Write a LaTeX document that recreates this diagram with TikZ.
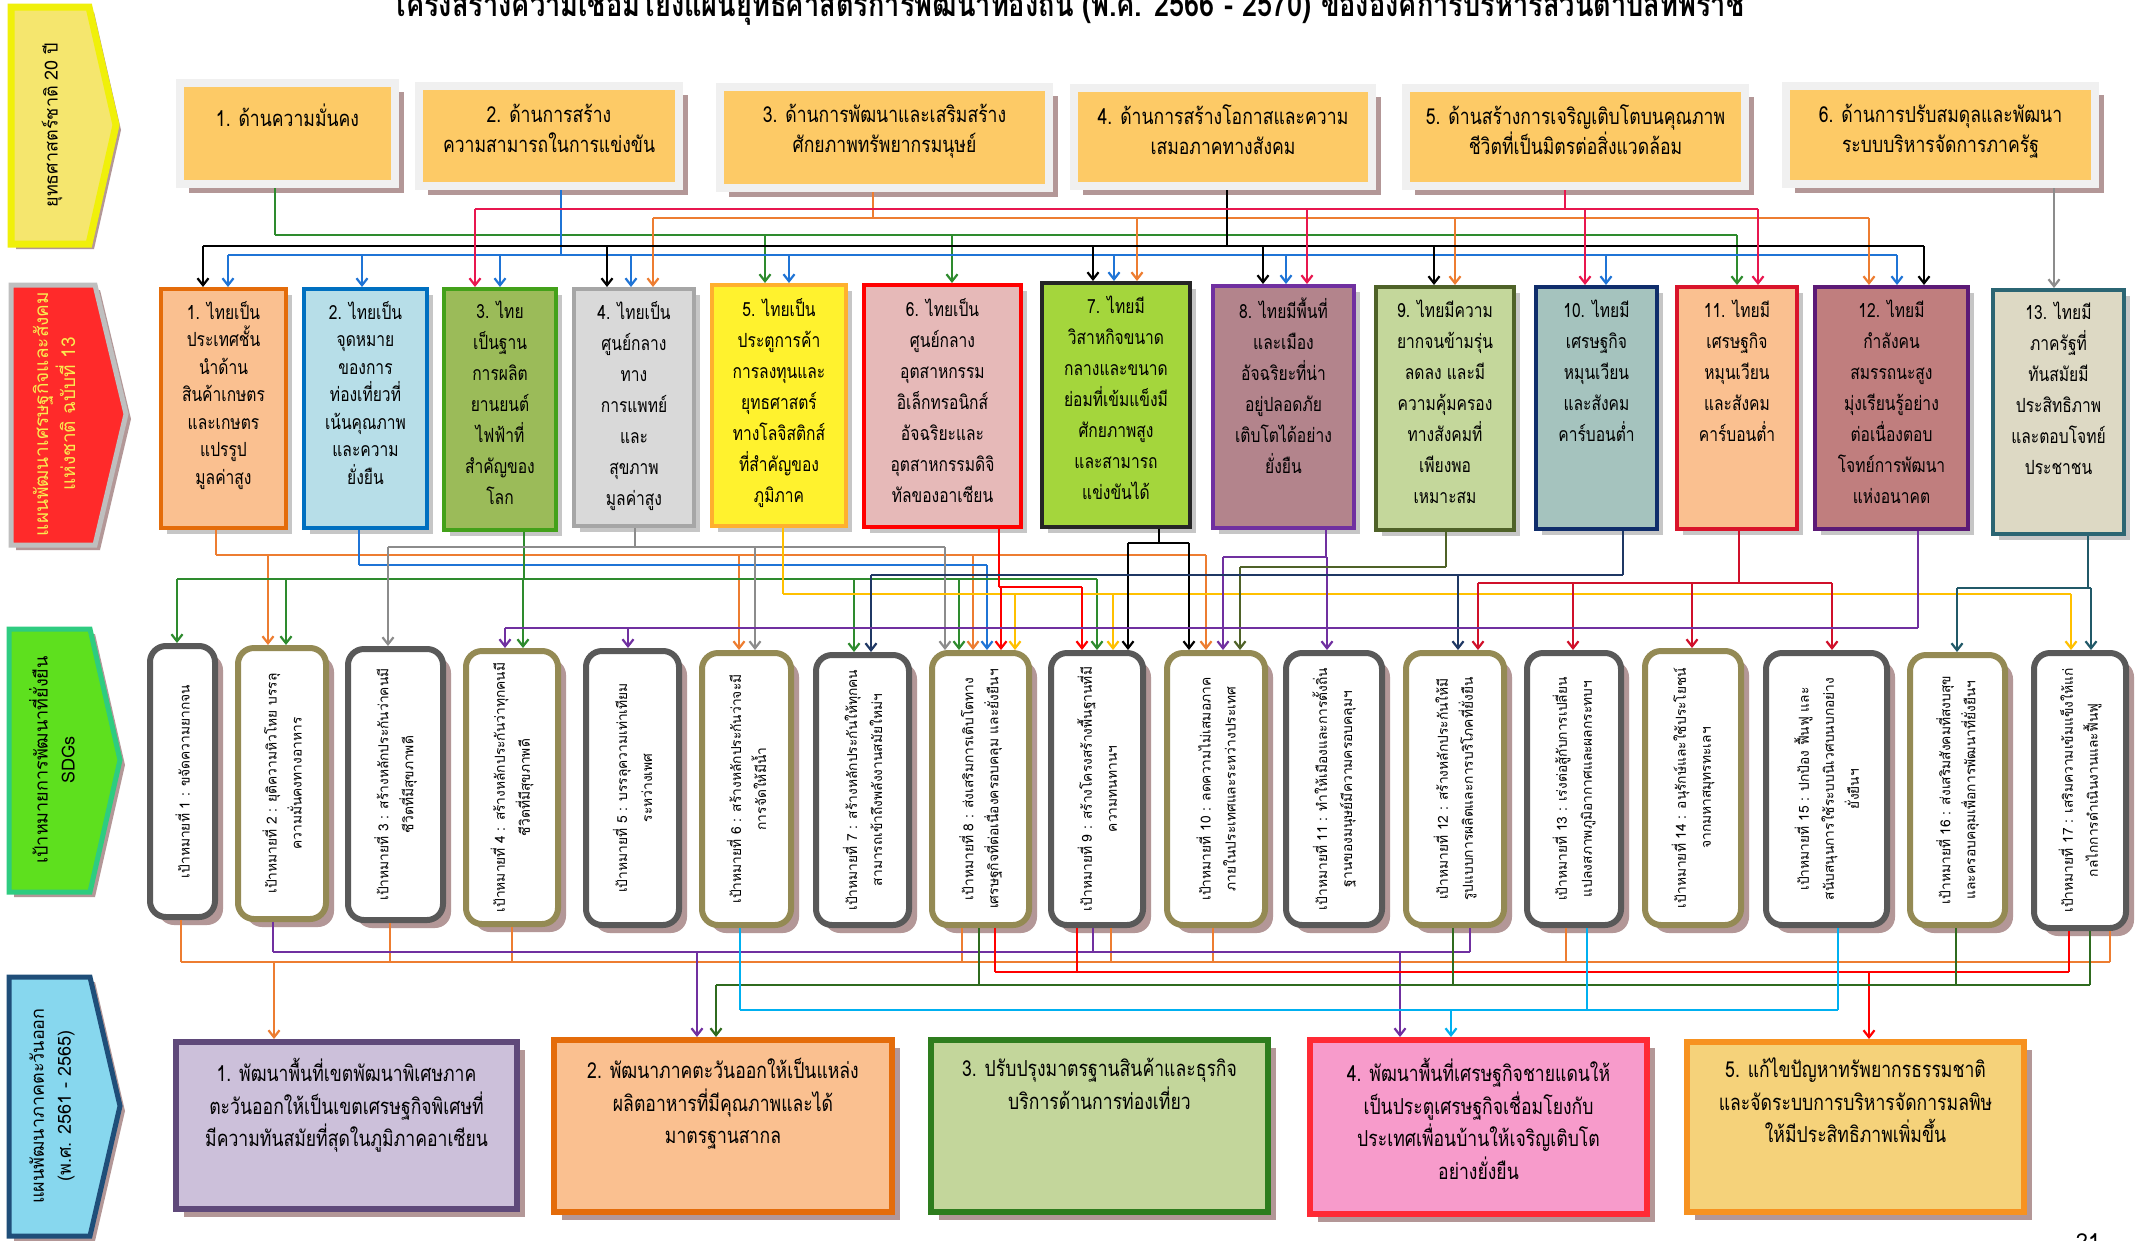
\documentclass[tikz,border=0pt]{standalone}
\usepackage{fontspec}
\usetikzlibrary{arrows.meta,shadows,fit}
\newfontfamily\thaiR[Script=Thai]{Loma}
\newfontfamily\thaiC[Script=Thai,FakeStretch=0.8]{Loma}

\definecolor{shad}{HTML}{B39797}
\definecolor{topfill}{HTML}{FDCA66}
\definecolor{topframe}{HTML}{F0F0F0}
\definecolor{sgray}{HTML}{595959}
\definecolor{solive}{HTML}{948A54}
% connector colours
\definecolor{cgreen}{HTML}{2E8B2E}
\definecolor{cblue}{HTML}{1F74D6}
\definecolor{corange}{HTML}{ED7D31}
\definecolor{cred}{HTML}{E8174F}
\definecolor{cgray}{HTML}{8C8C8C}
\definecolor{cyel}{HTML}{FFC000}
\definecolor{cpure}{HTML}{7030A0}
\definecolor{colive}{HTML}{4F6228}
\definecolor{cnavy}{HTML}{1F3864}
\definecolor{ccrim}{HTML}{D0102A}
\definecolor{cteal}{HTML}{215968}
\definecolor{ccyan}{HTML}{00B0F0}
\definecolor{cdgreen}{HTML}{2F6B1F}

\tikzset{
  conn/.style={line width=2.2pt},
  arr/.style={line width=2.2pt,-{Straight Barb[length=7pt,width=11pt]}},
  topbox/.style={inner sep=0pt, draw=topframe, line width=8pt, fill=topfill,
     drop shadow={shadow xshift=9pt,shadow yshift=-9pt,fill=shad,opacity=1}},
  midbox/.style={inner sep=0pt, line width=4pt,
     drop shadow={shadow xshift=6pt,shadow yshift=-6pt,fill=gray!45,opacity=1}},
  sdgbox/.style={inner sep=0pt, line width=6pt, fill=white, rounded corners=16pt,
     drop shadow={shadow xshift=8pt,shadow yshift=-8pt,fill=shad,opacity=1}},
  botbox/.style={inner sep=0pt, line width=6pt,
     drop shadow={shadow xshift=8pt,shadow yshift=-8pt,fill=shad,opacity=1}},
  toptext/.style={anchor=north, align=center, inner sep=0pt, font=\thaiC\fontsize{22}{30}\selectfont},
  midtext/.style={anchor=north, align=center, inner sep=0pt, font=\thaiC\fontsize{19.5}{31}\selectfont},
  bottext/.style={anchor=north, align=center, inner sep=0pt, font=\thaiC\fontsize{22}{32.5}\selectfont},
  sdgtext/.style={rotate=90, align=center, inner sep=0pt, font=\thaiR\fontsize{13.8}{25}\selectfont},
  sidetext/.style={rotate=90, align=center, inner sep=0pt, font=\thaiR\fontsize{18}{27}\selectfont},
}
\newcommand\dropto[4]{\draw[arr,#1] (#2,#3) -- (#2,0 |- #4.north);}
\newcommand\stubfrom[4]{\draw[conn,#1] (#2,0 |- #4.south) -- (#2,#3);}
\newcommand\hbus[4]{\draw[conn,#1] (#2,#4) -- (#3,#4);}

\begin{document}
\begin{tikzpicture}[x=1pt,y=-1pt]
\useasboundingbox (0,0) rectangle (2140,1240);
\fill[white] (0,0) rectangle (2140,1240);

% ---------- title (cut at top) ----------
\node[anchor=base, inner sep=0pt, font=\thaiC\bfseries\fontsize{34}{34}\selectfont] (title) at (1068,16)
  {โครงสร้างความเชื่อมโยงแผนยุทธศาสตร์การพัฒนาท้องถิ่น (พ.ศ. 2566 - 2570) ขององค์การบริหารส่วนตำบลทีพราช};

% ---------- left arrows ----------
\fill[shad] (16,12) -- (94,12) -- (121,130) -- (94,249) -- (16,249) -- cycle;
\filldraw[fill={rgb,255:red,245;green,230;blue,110}, draw={rgb,255:red,240;green,240;blue,10}, line width=7pt, line join=miter]
  (11,7) -- (89,7) -- (116,125) -- (89,244) -- (11,244) -- cycle;
\node[sidetext] (lab1) at (52,125) {ยุทธศาสตร์ชาติ 20 ปี};

\fill[shad] (16,290) -- (100,290) -- (131,419) -- (100,550) -- (16,550) -- cycle;
\filldraw[fill={rgb,255:red,255;green,42;blue,42}, draw=gray!50, line width=5pt]
  (11,285) -- (95,285) -- (126,414) -- (95,545) -- (11,545) -- cycle;
\node[sidetext, font=\thaiR\fontsize{19}{27}\selectfont, text={rgb,255:red,250;green,235;blue,80}] (lab2) at (54,414) {แผนพัฒนาเศรษฐกิจและสังคม\\แห่งชาติ ฉบับที่ 13};

\fill[shad] (14,634) -- (95,634) -- (125,765) -- (95,897) -- (14,897) -- cycle;
\filldraw[fill={rgb,255:red,94;green,224;blue,30}, draw={rgb,255:red,46;green,204;blue,128}, line width=5pt]
  (9,629) -- (90,629) -- (120,760) -- (90,892) -- (9,892) -- cycle;
\node[sidetext] (lab3) at (52,760) {เป้าหมายการพัฒนาที่ยั่งยืน\\SDGs};

\fill[shad] (14,982) -- (95,982) -- (125,1111) -- (95,1241) -- (14,1241) -- cycle;
\filldraw[fill={rgb,255:red,135;green,215;blue,238}, draw={rgb,255:red,31;green,78;blue,121}, line width=5pt]
  (9,977) -- (90,977) -- (120,1106) -- (90,1236) -- (9,1236) -- cycle;
\node[sidetext] (lab4) at (52,1106) {แผนพัฒนาภาคตะวันออก\\(พ.ศ. 2561 - 2565)};

% ---------- top row: strategies ----------
\node[topbox, fit={(180,83) (395,184)}] (t1) {};
\node[topbox, fit={(419,86) (679,186)}] (t2) {};
\node[topbox, fit={(720,87) (1049,188)}] (t3) {};
\node[topbox, fit={(1074,88) (1372,186)}] (t4) {};
\node[topbox, fit={(1406,88) (1745,186)}] (t5) {};
\node[topbox, fit={(1786,86) (2095,184)}] (t6) {};
\node[toptext] at (t1.center |- 0,104) {1. ด้านความมั่นคง};
\node[toptext] at (t2.center |- 0,104) {2. ด้านการสร้าง\\ความสามารถในการแข่งขัน};
\node[toptext] at (t3.center |- 0,104) {3. ด้านการพัฒนาและเสริมสร้าง\\ศักยภาพทรัพยากรมนุษย์};
\node[toptext] at (t4.center |- 0,104) {4. ด้านการสร้างโอกาสและความ\\เสมอภาคทางสังคม};
\node[toptext] at (t5.center |- 0,104) {5. ด้านสร้างการเจริญเติบโตบนคุณภาพ\\ชีวิตที่เป็นมิตรต่อสิ่งแวดล้อม};
\node[toptext] at (t6.center |- 0,104) {6. ด้านการปรับสมดุลและพัฒนา\\ระบบบริหารจัดการภาครัฐ};

% ---------- middle row: 13 national targets ----------
\node[midbox, fill={rgb,255:red,250;green,192;blue,144}, draw={rgb,255:red,228;green,108;blue,10}, fit={(161,289) (286,528)}] (m1) {};
\node[midbox, fill={rgb,255:red,183;green,222;blue,232}, draw={rgb,255:red,0;green,112;blue,192}, fit={(304,289) (427,528)}] (m2) {};
\node[midbox, fill={rgb,255:red,155;green,187;blue,89}, draw={rgb,255:red,67;green,161;blue,26}, fit={(444,289) (556,530)}] (m3) {};
\node[midbox, fill={rgb,255:red,217;green,217;blue,217}, draw={rgb,255:red,166;green,166;blue,166}, fit={(574,289) (694,526)}] (m4) {};
\node[midbox, fill={rgb,255:red,255;green,242;blue,46}, draw={rgb,255:red,255;green,176;blue,46}, fit={(712,285) (846,526)}] (m5) {};
\node[midbox, fill={rgb,255:red,230;green,185;blue,184}, draw=red, fit={(864,285) (1021,527)}] (m6) {};
\node[midbox, fill={rgb,255:red,164;green,214;blue,60}, draw={rgb,255:red,38;green,38;blue,38}, fit={(1042,283) (1190,527)}] (m7) {};
\node[midbox, fill={rgb,255:red,179;green,132;blue,140}, draw={rgb,255:red,112;green,48;blue,160}, fit={(1213,286) (1354,528)}] (m8) {};
\node[midbox, fill={rgb,255:red,196;green,215;blue,155}, draw={rgb,255:red,79;green,98;blue,40}, fit={(1376,287) (1514,530)}] (m9) {};
\node[midbox, fill={rgb,255:red,165;green,195;blue,190}, draw={rgb,255:red,15;green,45;blue,107}, fit={(1536,287) (1657,529)}] (m10) {};
\node[midbox, fill={rgb,255:red,250;green,192;blue,144}, draw={rgb,255:red,217;green,20;blue,43}, fit={(1677,287) (1797,529)}] (m11) {};
\node[midbox, fill={rgb,255:red,192;green,126;blue,126}, draw={rgb,255:red,92;green,26;blue,118}, fit={(1815,287) (1968,529)}] (m12) {};
\node[midbox, fill={rgb,255:red,221;green,217;blue,196}, draw={rgb,255:red,43;green,101;blue,115}, fit={(1993,290) (2124,534)}] (m13) {};

\node[midtext, font=\thaiC\fontsize{19.5}{27.5}\selectfont] at (m1.center |- 0,301) {1. ไทยเป็น\\ประเทศชั้น\\นำด้าน\\สินค้าเกษตร\\และเกษตร\\แปรรูป\\มูลค่าสูง};
\node[midtext, font=\thaiC\fontsize{19.5}{27.5}\selectfont] at (m2.center |- 0,301) {2. ไทยเป็น\\จุดหมาย\\ของการ\\ท่องเที่ยวที่\\เน้นคุณภาพ\\และความ\\ยั่งยืน};
\node[midtext] at (m3.center |- 0,301) {3. ไทย\\เป็นฐาน\\การผลิต\\ยานยนต์\\ไฟฟ้าที่\\สำคัญของ\\โลก};
\node[midtext] at (m4.center |- 0,301) {4. ไทยเป็น\\ศูนย์กลาง\\ทาง\\การแพทย์\\และ\\สุขภาพ\\มูลค่าสูง};
\node[midtext] at (m5.center |- 0,298) {5. ไทยเป็น\\ประตูการค้า\\การลงทุนและ\\ยุทธศาสตร์\\ทางโลจิสติกส์\\ที่สำคัญของ\\ภูมิภาค};
\node[midtext] at (m6.center |- 0,298) {6. ไทยเป็น\\ศูนย์กลาง\\อุตสาหกรรม\\อิเล็กทรอนิกส์\\อัจฉริยะและ\\อุตสาหกรรมดิจิ\\ทัลของอาเซียน};
\node[midtext] at (m7.center |- 0,296) {7. ไทยมี\\วิสาหกิจขนาด\\กลางและขนาด\\ย่อมที่เข้มแข็งมี\\ศักยภาพสูง\\และสามารถ\\แข่งขันได้};
\node[midtext] at (m8.center |- 0,298) {8. ไทยมีพื้นที่\\และเมือง\\อัจฉริยะที่น่า\\อยู่ปลอดภัย\\เติบโตได้อย่าง\\ยั่งยืน};
\node[midtext] at (m9.center |- 0,300) {9. ไทยมีความ\\ยากจนข้ามรุ่น\\ลดลง และมี\\ความคุ้มครอง\\ทางสังคมที่\\เพียงพอ\\เหมาะสม};
\node[midtext] at (m10.center |- 0,300) {10. ไทยมี\\เศรษฐกิจ\\หมุนเวียน\\และสังคม\\คาร์บอนต่ำ};
\node[midtext] at (m11.center |- 0,300) {11. ไทยมี\\เศรษฐกิจ\\หมุนเวียน\\และสังคม\\คาร์บอนต่ำ};
\node[midtext] at (m12.center |- 0,300) {12. ไทยมี\\กำลังคน\\สมรรถนะสูง\\มุ่งเรียนรู้อย่าง\\ต่อเนื่องตอบ\\โจทย์การพัฒนา\\แห่งอนาคต};
\node[midtext] at (m13.center |- 0,302) {13. ไทยมี\\ภาครัฐที่\\ทันสมัยมี\\ประสิทธิภาพ\\และตอบโจทย์\\ประชาชน};

% ---------- SDG row ----------
\node[sdgbox, draw=sgray,  fit={(150,646) (215,917)}] (s1) {};
\node[sdgbox, draw=solive, fit={(238,648) (326,919)}] (s2) {};
\node[sdgbox, draw=sgray,  fit={(348,649) (443,920)}] (s3) {};
\node[sdgbox, draw=solive, fit={(466,651) (558,924)}] (s4) {};
\node[sdgbox, draw=sgray,  fit={(586,651) (679,925)}] (s5) {};
\node[sdgbox, draw=solive, fit={(702,653) (791,925)}] (s6) {};
\node[sdgbox, draw=sgray,  fit={(816,655) (909,925)}] (s7) {};
\node[sdgbox, draw=solive, fit={(932,653) (1029,925)}] (s8) {};
\node[sdgbox, draw=sgray,  fit={(1051,653) (1143,925)}] (s9) {};
\node[sdgbox, draw=solive, fit={(1167,653) (1265,925)}] (s10) {};
\node[sdgbox, draw=sgray,  fit={(1286,653) (1382,925)}] (s11) {};
\node[sdgbox, draw=solive, fit={(1406,653) (1504,925)}] (s12) {};
\node[sdgbox, draw=sgray,  fit={(1527,653) (1621,925)}] (s13) {};
\node[sdgbox, draw=solive, fit={(1645,651) (1741,925)}] (s14) {};
\node[sdgbox, draw=sgray,  fit={(1766,653) (1887,925)}] (s15) {};
\node[sdgbox, draw=solive, fit={(1910,655) (2005,925)}] (s16) {};
\node[sdgbox, draw=sgray,  fit={(2034,653) (2126,928)}] (s17) {};

\node[sdgtext] at (s1) {เป้าหมายที่ 1 : ขจัดความยากจน};
\node[sdgtext] at (s2) {เป้าหมายที่ 2 : ยุติความหิวโหย บรรลุ\\ความมั่นคงทางอาหาร};
\node[sdgtext] at (s3) {เป้าหมายที่ 3 : สร้างหลักประกันว่าคนมี\\ชีวิตที่มีสุขภาพดี};
\node[sdgtext] at (s4) {เป้าหมายที่ 4 : สร้างหลักประกันว่าทุกคนมี\\ชีวิตที่มีสุขภาพดี};
\node[sdgtext] at (s5) {เป้าหมายที่ 5 : บรรลุความเท่าเทียม\\ระหว่างเพศ};
\node[sdgtext] at (s6) {เป้าหมายที่ 6 : สร้างหลักประกันว่าจะมี\\การจัดให้มีน้ำ};
\node[sdgtext] at (s7) {เป้าหมายที่ 7 : สร้างหลักประกันให้ทุกคน\\สามารถเข้าถึงพลังงานสมัยใหม่ฯ};
\node[sdgtext] at (s8) {เป้าหมายที่ 8 : ส่งเสริมการเติบโตทาง\\เศรษฐกิจที่ต่อเนื่องครอบคลุม และยั่งยืนฯ};
\node[sdgtext] at (s9) {เป้าหมายที่ 9 : สร้างโครงสร้างพื้นฐานที่มี\\ความทนทานฯ};
\node[sdgtext] at (s10) {เป้าหมายที่ 10 : ลดความไม่เสมอภาค\\ภายในประเทศและระหว่างประเทศ};
\node[sdgtext] at (s11) {เป้าหมายที่ 11 : ทำให้เมืองและการตั้งถิ่น\\ฐานของมนุษย์มีความครอบคลุมฯ};
\node[sdgtext] at (s12) {เป้าหมายที่ 12 : สร้างหลักประกันให้มี\\รูปแบบการผลิตและการบริโภคที่ยั่งยืน};
\node[sdgtext] at (s13) {เป้าหมายที่ 13 : เร่งต่อสู้กับการเปลี่ยน\\แปลงสภาพภูมิอากาศและผลกระทบฯ};
\node[sdgtext] at (s14) {เป้าหมายที่ 14 : อนุรักษ์และใช้ประโยชน์\\จากมหาสมุทรทะเลฯ};
\node[sdgtext] at (s15) {เป้าหมายที่ 15 : ปกป้อง ฟื้นฟู และ\\สนับสนุนการใช้ระบบนิเวศบนบกอย่าง\\ยั่งยืนฯ};
\node[sdgtext] at (s16) {เป้าหมายที่ 16 : ส่งเสริมสังคมที่สงบสุข\\และครอบคลุมเพื่อการพัฒนาที่ยั่งยืนฯ};
\node[sdgtext] at (s17) {เป้าหมายที่ 17 : เสริมความเข้มแข็งให้แก่\\กลไกการดำเนินงานและฟื้นฟู};

% ---------- bottom row: eastern region plan ----------
\node[botbox, fill={rgb,255:red,204;green,192;blue,218}, draw={rgb,255:red,95;green,73;blue,122}, fit={(176,1042) (517,1209)}] (b1) {};
\node[botbox, fill={rgb,255:red,250;green,192;blue,144}, draw={rgb,255:red,228;green,108;blue,10}, fit={(554,1040) (892,1212)}] (b2) {};
\node[botbox, fill={rgb,255:red,195;green,214;blue,155}, draw={rgb,255:red,46;green,125;blue,30}, fit={(931,1040) (1268,1212)}] (b3) {};
\node[botbox, fill={rgb,255:red,247;green,155;blue,203}, draw={rgb,255:red,255;green,42;blue,53}, fit={(1310,1040) (1647,1214)}] (b4) {};
\node[botbox, fill={rgb,255:red,245;green,210;blue,122}, draw={rgb,255:red,247;green,146;blue,32}, fit={(1687,1042) (2024,1212)}] (b5) {};

\node[bottext] at (b1.center |- 0,1058) {1. พัฒนาพื้นที่เขตพัฒนาพิเศษภาค\\ตะวันออกให้เป็นเขตเศรษฐกิจพิเศษที่\\มีความทันสมัยที่สุดในภูมิภาคอาเซียน};
\node[bottext] at (b2.center |- 0,1058) {2. พัฒนาภาคตะวันออกให้เป็นแหล่ง\\ผลิตอาหารที่มีคุณภาพและได้\\มาตรฐานสากล};
\node[bottext] at (b3.center |- 0,1058) {3. ปรับปรุงมาตรฐานสินค้าและธุรกิจ\\บริการด้านการท่องเที่ยว};
\node[bottext] at (b4.center |- 0,1058) {4. พัฒนาพื้นที่เศรษฐกิจชายแดนให้\\เป็นประตูเศรษฐกิจเชื่อมโยงกับ\\ประเทศเพื่อนบ้านให้เจริญเติบโต\\อย่างยั่งยืน};
\node[bottext] at (b5.center |- 0,1058) {5. แก้ไขปัญหาทรัพยากรธรรมชาติ\\และจัดระบบการบริหารจัดการมลพิษ\\ให้มีประสิทธิภาพเพิ่มขึ้น};

\node[anchor=north, inner sep=0pt, font=\thaiR\fontsize{22}{22}\selectfont] (pg) at (2088,1233) {21};

% ---------- connectors: strategies -> national targets ----------
% 1 green
\stubfrom{cgreen}{275}{235}{t1}
\hbus{cgreen}{275}{1737}{235}
\dropto{cgreen}{765}{235}{m5} \dropto{cgreen}{952}{235}{m6} \dropto{cgreen}{1737}{235}{m11}
% 2 blue
\stubfrom{cblue}{561}{255}{t2}
\hbus{cblue}{228}{1897}{255}
\dropto{cblue}{228}{255}{m1} \dropto{cblue}{362}{255}{m2} \dropto{cblue}{500}{255}{m3}
\dropto{cblue}{631}{255}{m4} \dropto{cblue}{789}{255}{m5} \dropto{cblue}{1114}{255}{m7}
\dropto{cblue}{1286}{255}{m8} \dropto{cblue}{1606}{255}{m10} \dropto{cblue}{1897}{255}{m12}
% 3 orange
\stubfrom{corange}{873}{218}{t3}
\hbus{corange}{653}{1869}{218}
\dropto{corange}{653}{218}{m4} \dropto{corange}{1137}{218}{m7} \dropto{corange}{1455}{218}{m9} \dropto{corange}{1869}{218}{m12}
% 4 black
\stubfrom{black}{1227}{246}{t4}
\hbus{black}{203}{1924}{246}
\dropto{black}{203}{246}{m1} \dropto{black}{607}{246}{m4} \dropto{black}{1093}{246}{m7}
\dropto{black}{1263}{246}{m8} \dropto{black}{1434}{246}{m9} \dropto{black}{1924}{246}{m12}
% 5 red
\stubfrom{cred}{1565}{209}{t5}
\hbus{cred}{475}{1758}{209}
\dropto{cred}{475}{209}{m3} \dropto{cred}{1307}{209}{m8} \dropto{cred}{1585}{209}{m10} \dropto{cred}{1758}{209}{m11}
% 6 gray
\draw[arr,cgray] (t6.south -| 2054,0) -- (m13.north -| 2054,0);

% ---------- connectors: national targets -> SDGs ----------
\stubfrom{corange}{216}{555}{m1} \hbus{corange}{216}{1206}{555}
\dropto{corange}{268}{555}{s2} \dropto{corange}{739}{555}{s6} \dropto{corange}{973}{555}{s8} \dropto{corange}{1206}{555}{s10}
\stubfrom{cblue}{359}{565}{m2} \hbus{cblue}{359}{987}{565} \dropto{cblue}{987}{565}{s8}
\stubfrom{cgreen}{524}{579}{m3} \hbus{cgreen}{177}{1097}{579}
\dropto{cgreen}{177}{579}{s1} \dropto{cgreen}{286}{579}{s2} \dropto{cgreen}{523}{579}{s4}
\dropto{cgreen}{854}{579}{s7} \dropto{cgreen}{959}{579}{s8} \dropto{cgreen}{1097}{579}{s9}
\stubfrom{cgray}{635}{547}{m4} \hbus{cgray}{388}{945}{547}
\dropto{cgray}{388}{547}{s3} \dropto{cgray}{755}{547}{s6} \dropto{cgray}{945}{547}{s8}
\stubfrom{cyel}{783}{594}{m5} \hbus{cyel}{783}{2071}{594}
\dropto{cyel}{1015}{594}{s8} \dropto{cyel}{1113}{594}{s9} \dropto{cyel}{2071}{594}{s17}
\stubfrom{red}{999}{587}{m6} \hbus{red}{999}{1082}{587}
\dropto{red}{1001}{587}{s8} \dropto{red}{1082}{587}{s9}
\stubfrom{black}{1159}{543}{m7} \hbus{black}{1128}{1189}{543}
\dropto{black}{1128}{543}{s9} \dropto{black}{1189}{543}{s10}
\stubfrom{cpure}{1326}{557}{m8} \hbus{cpure}{1223}{1327}{557}
\dropto{cpure}{1223}{557}{s10} \dropto{cpure}{1327}{557}{s11}
\stubfrom{colive}{1446}{567}{m9} \hbus{colive}{1240}{1446}{567} \dropto{colive}{1240}{567}{s10}
\stubfrom{cnavy}{1623}{575}{m10} \hbus{cnavy}{871}{1623}{575}
\dropto{cnavy}{871}{575}{s7} \dropto{cnavy}{1458}{575}{s12}
\stubfrom{ccrim}{1739}{583}{m11} \hbus{ccrim}{1478}{1832}{583}
\dropto{ccrim}{1478}{583}{s12} \dropto{ccrim}{1573}{583}{s13} \dropto{ccrim}{1692}{583}{s14} \dropto{ccrim}{1832}{583}{s15}
\stubfrom{cpure}{1918}{628}{m12} \hbus{cpure}{505}{1918}{628}
\dropto{cpure}{505}{628}{s4} \dropto{cpure}{628}{628}{s5}
\stubfrom{cteal}{2088}{588}{m13} \hbus{cteal}{1957}{2091}{588}
\dropto{cteal}{1957}{588}{s16} \dropto{cteal}{2091}{588}{s17}

% ---------- connectors: SDGs -> eastern plan ----------
\foreach \x/\s in {181/s1,390/s3,512/s4,962/s8,1111/s9,1213/s10,1566/s13,2110/s17} {\stubfrom{corange}{\x}{962}{\s}}
\hbus{corange}{181}{2110}{962} \dropto{corange}{274}{962}{b1}
\foreach \x/\s in {273/s2,1093/s9,1470/s12} {\stubfrom{cpure}{\x}{952}{\s}}
\hbus{cpure}{273}{1470}{952} \dropto{cpure}{697}{952}{b2} \dropto{cpure}{1400}{952}{b4}
\foreach \x/\s in {995/s8,1077/s9,2069/s17} {\stubfrom{red}{\x}{972}{\s}}
\hbus{red}{995}{2069}{972} \dropto{red}{1869}{972}{b5}
\foreach \x/\s in {979/s8,1453/s12,1956/s16,2090/s17} {\stubfrom{cdgreen}{\x}{985}{\s}}
\hbus{cdgreen}{716}{2090}{985} \dropto{cdgreen}{716}{985}{b2}
\foreach \x/\s in {740/s6,1587/s13,1838/s15} {\stubfrom{ccyan}{\x}{1010}{\s}}
\hbus{ccyan}{740}{1838}{1010} \dropto{ccyan}{1451}{1010}{b4}
\end{tikzpicture}
\end{document}
